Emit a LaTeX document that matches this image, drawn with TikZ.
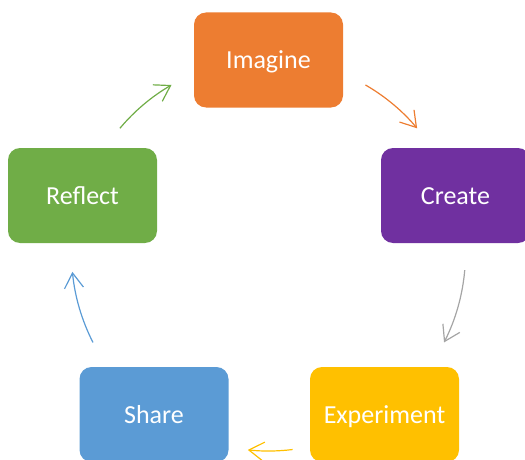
\documentclass[tikz,border=0pt]{standalone}
\usepackage{fontspec}
\setmainfont{Carlito}
\usetikzlibrary{arrows.meta,calc}
\definecolor{cOrange}{HTML}{ED7D31}
\definecolor{cPurple}{HTML}{7030A0}
\definecolor{cGold}{HTML}{FFC000}
\definecolor{cBlue}{HTML}{5B9BD5}
\definecolor{cGreen}{HTML}{70AD47}
\definecolor{cGray}{HTML}{A5A5A5}
\tikzset{
  stagebox/.style={rectangle, rounded corners=12pt, minimum width=149pt, minimum height=95pt,
    draw=none, text=white, font=\fontsize{26}{30}\selectfont, inner sep=0pt,
    text height=17pt, text depth=0pt},
  cyclearrow/.style={line width=1.2pt, -{Straight Barb[length=15pt, width=19pt, line width=1.2pt]}},
}
\begin{document}
\begin{tikzpicture}[x=1pt, y=1pt]
\useasboundingbox (0,0) rectangle (525,459);
\coordinate (C) at (268.5,206);
\node[stagebox, fill=cOrange] (imagine) at (268.5,399) {Imagine};
\node[stagebox, fill=cPurple] (create) at (455.5,263.5) {Create};
\node[stagebox, fill=cGold] (experiment) at (384.5,44.5) {Experiment};
\node[stagebox, fill=cBlue] (share) at (154,44.5) {Share};
\node[stagebox, fill=cGreen] (reflect) at (82.5,263.5) {Reflect};
\coordinate (a1) at ($(C)+(60:194)$);
\draw[cyclearrow, cOrange] (a1) arc[start angle=60, end angle=40, radius=194];
\coordinate (a2) at ($(C)+(-5:197)$);
\draw[cyclearrow, cGray] (a2) arc[start angle=-5, end angle=-27, radius=197];
\coordinate (a3) at ($(C)+(-83:198)$);
\draw[cyclearrow, cGold] (a3) arc[start angle=-83, end angle=-96, radius=198];
\coordinate (a4) at ($(C)+(207:197)$);
\draw[cyclearrow, cBlue] (a4) arc[start angle=207, end angle=185.5, radius=197];
\coordinate (a5) at ($(C)+(140:194)$);
\draw[cyclearrow, cGreen] (a5) arc[start angle=140, end angle=120, radius=194];
\end{tikzpicture}
\end{document}
